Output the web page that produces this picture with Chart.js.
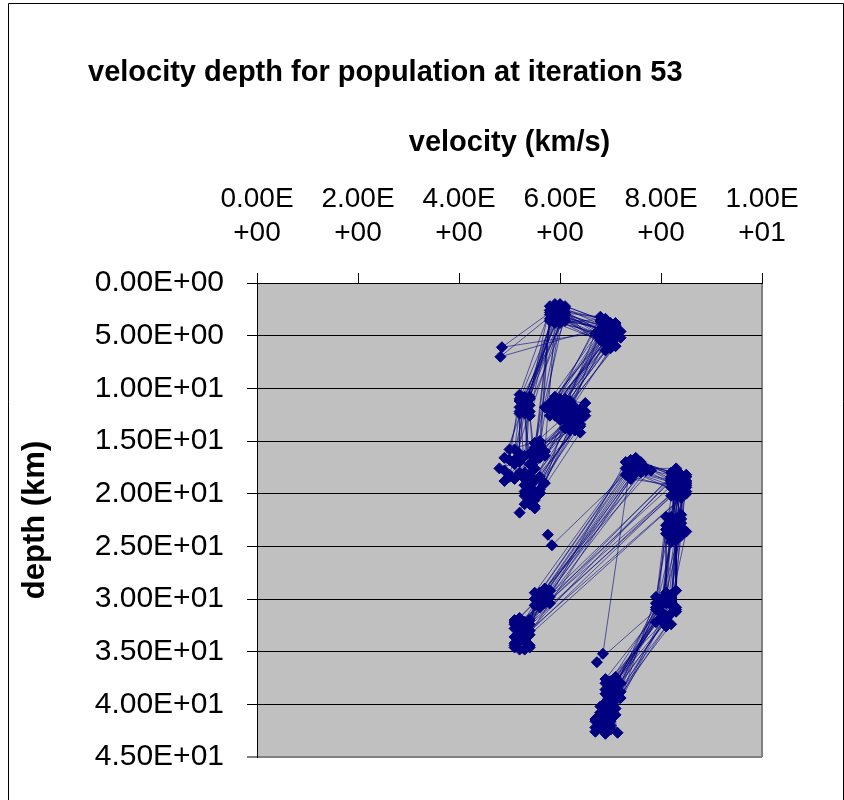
<!DOCTYPE html>
<html>
<head>
<meta charset="utf-8">
<script src="https://cdn.jsdelivr.net/npm/chart.js@4"></script>
<style>
  body { margin: 0; background: #fff; }
  #wrap { position: relative; width: 844px; height: 800px; }
</style>
</head>
<body>
<div id="wrap"><canvas id="chart"></canvas></div>
<script>
// population of 28 velocity models, one value per model in each array
// upper part of each model: G -> C -> A -> B -> D -> E -> H
const velG = [5.1, 4.9, 5.3, 5.0, 5.4, 5.2, 4.8, 5.5, 5.1, 5.3, 5.0, 5.6, 5.2, 4.9, 5.4, 5.1, 5.3, 5.2, 6.9, 7.0, 5.0, 5.2, 4.9, 5.4, 5.1, 5.3, 5.0, 5.5];
const depG = [17.2, 17.8, 16.4, 18.2, 19.6, 17.0, 17.6, 20.4, 18.6, 21.0, 16.8, 19.9, 18.0, 16.6, 20.8, 15.8, 19.2, 21.8, 4.6, 4.0, 18.4, 16.2, 18.8, 20.0, 16.8, 18.0, 15.8, 21.4];
const velC = [5.3, 5.2, 5.4, 5.5, 5.3, 5.2, 5.6, 5.4, 5.3, 5.5, 5.2, 5.4, 5.7, 5.3, 5.5, 5.2, 5.4, 5.6, 4.85, 4.82, 5.3, 5.2, 5.5, 5.3, 5.4, 5.2, 5.6, 5.3];
const depC = [11.2, 11.8, 10.8, 15.6, 12.4, 11.0, 16.2, 11.6, 12.0, 15.2, 10.6, 12.6, 16.0, 11.4, 15.8, 12.2, 11.0, 15.4, 6.1, 7.0, 11.6, 12.4, 16.6, 10.8, 12.2, 11.2, 15.0, 12.0];
const velA = [5.9, 6.0, 5.8, 6.1, 5.9, 6.0, 5.8, 6.1, 5.9, 6.0, 5.8, 6.1, 5.9, 6.0, 5.8, 6.1, 5.9, 6.0, 5.8, 6.0, 5.9, 6.1, 5.8, 6.0, 5.9, 6.1, 5.8, 6.0];
const depA = [2.6, 3.0, 2.2, 2.8, 3.4, 2.0, 3.0, 3.6, 2.4, 3.2, 2.6, 2.2, 3.8, 2.6, 3.4, 3.0, 2.0, 3.6, 2.8, 2.4, 3.2, 2.4, 3.6, 2.8, 2.2, 3.4, 2.6, 3.8];
const velB = [6.9, 7.0, 6.8, 7.1, 6.9, 7.0, 6.8, 7.2, 6.9, 7.0, 6.8, 7.1, 6.9, 7.0, 6.7, 7.1, 6.9, 7.0, 6.8, 7.1, 6.9, 7.0, 7.1, 6.8, 7.0, 6.9, 7.2, 6.8];
const depB = [4.2, 4.8, 3.6, 5.2, 5.8, 3.8, 4.4, 4.6, 5.0, 6.2, 5.4, 4.0, 3.4, 5.6, 4.8, 4.4, 6.4, 4.2, 5.0, 3.8, 5.4, 4.4, 6.0, 3.2, 5.0, 4.0, 5.2, 4.8];
const velD = [5.9, 6.0, 5.8, 6.1, 5.9, 6.2, 5.7, 6.0, 5.9, 6.1, 5.8, 6.0, 6.2, 5.9, 6.0, 5.8, 6.1, 5.9, 6.0, 6.2, 6.0, 5.8, 6.1, 5.9, 6.2, 5.8, 6.0, 6.1];
const depD = [11.4, 11.0, 12.0, 11.6, 12.6, 11.2, 11.8, 12.2, 10.8, 12.8, 11.4, 11.8, 12.4, 11.2, 13.0, 12.2, 11.0, 11.8, 12.4, 11.6, 11.4, 12.6, 12.0, 11.6, 11.4, 11.8, 12.8, 11.2];
const velE = [6.3, 6.2, 6.4, 6.3, 6.1, 6.5, 6.3, 6.2, 6.4, 6.3, 6.2, 6.4, 6.3, 6.1, 6.4, 6.2, 6.5, 6.3, 6.2, 6.4, 6.3, 6.2, 6.4, 6.3, 6.5, 6.1, 6.3, 6.4];
const depE = [12.6, 13.4, 12.0, 13.8, 12.8, 11.4, 13.0, 14.0, 12.4, 13.2, 12.2, 13.6, 11.8, 13.0, 12.8, 13.6, 12.2, 12.4, 13.2, 14.2, 13.4, 12.4, 13.0, 14.0, 12.6, 13.8, 12.0, 13.4];
const velH = [5.5, 5.4, 5.6, 5.3, 5.5, 5.7, 5.4, 5.6, 5.5, 5.3, 5.6, 5.4, 5.5, 5.7, 5.4, 5.5, 5.6, 5.5, 5.4, 5.6, 5.5, 5.4, 5.6, 5.3, 5.6, 5.4, 5.5, 5.3];
const depH = [16.0, 19.4, 15.4, 20.2, 18.8, 16.4, 20.8, 15.8, 19.8, 18.6, 16.6, 20.4, 15.2, 19.0, 16.2, 21.2, 19.6, 16.8, 18.2, 20.0, 20.6, 17.2, 18.4, 19.2, 15.6, 21.0, 17.6, 19.8];

// lower part of each model: O -> N -> J -> K -> M -> P -> R -> S
const velO = [5.2, 5.1, 5.3, 5.2, 5.4, 5.1, 5.3, 5.2, 5.4, 5.1, 5.2, 5.3, 5.1, 5.4, 5.2, 5.3, 5.1, 5.76, 5.2, 5.3, 5.2, 5.3, 5.1, 5.4, 5.2, 5.1, 5.3, 5.2];
const depO = [33.4, 34.2, 32.6, 34.8, 33.0, 32.2, 34.0, 31.8, 34.6, 33.6, 32.8, 33.8, 34.4, 32.4, 33.2, 34.8, 32.0, 23.9, 33.6, 32.8, 34.0, 33.2, 32.4, 34.4, 33.0, 34.6, 32.2, 33.8];
const velN = [5.7, 5.6, 5.8, 5.5, 5.7, 5.6, 5.8, 5.7, 5.5, 5.6, 5.3, 5.2, 5.3, 5.2, 5.4, 5.2, 5.3, 5.84, 5.7, 5.6, 5.6, 5.8, 5.7, 5.5, 5.3, 5.2, 5.4, 5.1];
const depN = [29.6, 30.2, 29.2, 30.6, 29.0, 29.8, 30.4, 29.4, 30.0, 29.6, 33.0, 32.4, 33.6, 33.2, 32.0, 33.8, 32.6, 24.9, 30.0, 29.4, 30.8, 29.8, 30.4, 29.4, 32.2, 34.0, 33.4, 32.8];
const velJ = [7.5, 7.4, 7.6, 7.3, 7.7, 7.5, 7.4, 7.6, 7.3, 7.8, 8.3, 8.4, 8.2, 8.5, 8.3, 8.4, 8.2, 7.5, 7.6, 7.4, 7.5, 7.3, 7.7, 7.4, 8.4, 8.2, 8.5, 8.3];
const depJ = [17.4, 17.8, 17.0, 18.2, 17.6, 16.6, 18.6, 17.2, 17.6, 17.8, 19.6, 18.4, 20.2, 19.0, 17.8, 20.4, 18.8, 17.2, 18.0, 17.0, 18.0, 17.0, 17.8, 16.8, 19.2, 18.6, 20.0, 18.0];
const velK = [8.3, 8.4, 8.2, 8.5, 8.3, 8.4, 8.5, 8.2, 8.4, 8.3, 8.5, 8.3, 8.4, 8.2, 8.5, 8.3, 8.4, 8.3, 8.4, 6.85, 8.3, 8.5, 8.2, 8.4, 8.3, 8.5, 8.2, 8.4];
const depK = [18.4, 19.2, 18.0, 19.8, 17.6, 18.8, 19.4, 18.6, 20.0, 19.0, 18.2, 19.8, 18.6, 19.4, 18.8, 18.2, 19.6, 18.0, 19.0, 35.2, 19.4, 18.4, 19.0, 18.2, 20.2, 19.2, 18.4, 19.8];
const velM = [8.3, 8.2, 8.4, 8.3, 8.1, 8.4, 8.2, 8.3, 8.5, 8.2, 8.3, 8.4, 8.2, 8.3, 8.1, 8.4, 8.3, 8.2, 8.3, 6.73, 8.2, 8.4, 8.3, 8.1, 8.4, 8.2, 8.3, 8.1];
const depM = [23.0, 23.8, 22.4, 24.2, 23.4, 22.0, 24.6, 22.8, 23.6, 22.2, 24.0, 23.2, 22.6, 24.4, 23.0, 23.8, 22.4, 23.6, 23.2, 36.0, 23.4, 24.0, 22.6, 23.8, 22.8, 24.2, 23.6, 22.2];
const velP = [8.1, 8.0, 8.2, 8.1, 7.9, 8.3, 8.0, 8.2, 8.1, 7.9, 8.3, 8.0, 8.1, 8.2, 7.9, 8.1, 8.3, 8.0, 8.2, 8.1, 8.0, 8.2, 7.9, 8.1, 8.2, 8.0, 8.3, 7.9];
const depP = [30.4, 31.2, 29.6, 32.0, 30.8, 29.2, 31.8, 30.2, 32.6, 29.8, 31.0, 30.0, 31.6, 30.6, 32.2, 29.4, 30.8, 31.4, 32.4, 30.2, 30.6, 31.4, 31.0, 29.6, 30.0, 32.0, 31.2, 30.4];
const velR = [7.0, 7.1, 6.9, 7.0, 7.2, 6.9, 7.1, 7.0, 6.9, 7.1, 7.0, 6.9, 7.2, 7.0, 7.1, 6.9, 7.0, 7.1, 7.0, 7.1, 7.0, 6.9, 7.1, 7.0, 6.9, 7.2, 7.0, 7.1];
const depR = [38.2, 38.8, 37.6, 39.4, 38.0, 39.0, 37.4, 38.6, 40.4, 41.0, 38.4, 39.8, 38.8, 41.4, 37.8, 40.8, 39.2, 38.0, 40.0, 38.4, 39.0, 38.0, 39.6, 37.8, 38.6, 39.4, 40.6, 38.2];
const velS = [6.9, 6.8, 7.0, 6.7, 6.9, 7.0, 6.8, 6.9, 6.7, 7.0, 6.8, 6.9, 6.7, 7.1, 6.9, 6.8, 7.14, 6.9, 6.8, 7.0, 6.9, 6.8, 7.0, 6.7, 6.9, 6.8, 7.0, 6.9];
const depS = [41.2, 42.0, 40.6, 41.6, 42.4, 41.0, 40.2, 42.8, 41.4, 42.2, 40.8, 41.8, 42.6, 40.4, 41.4, 42.2, 42.7, 40.6, 41.8, 41.6, 41.8, 40.8, 42.0, 42.2, 40.8, 41.2, 42.4, 41.0];

const upperPath = [[velG, depG], [velC, depC], [velA, depA], [velB, depB], [velD, depD], [velE, depE], [velH, depH]];
const lowerPath = [[velO, depO], [velN, depN], [velJ, depJ], [velK, depK], [velM, depM], [velP, depP], [velR, depR], [velS, depS]];

const velTicks = [0, 2, 4, 6, 8, 10];
const depthTicks = [0, 5, 10, 15, 20, 25, 30, 35, 40, 45];

const FONT = "'Liberation Sans', Arial, sans-serif";
const NAVY = '#000080';

function sci(v) {
  const e = v === 0 ? 0 : Math.floor(Math.log10(Math.abs(v)));
  const m = v / Math.pow(10, e);
  return m.toFixed(2) + 'E' + (e < 0 ? '-' : '+') + String(Math.abs(e)).padStart(2, '0');
}

const datasets = [];
for (let i = 0; i < velA.length; i++) {
  [upperPath, lowerPath].forEach(path => {
    datasets.push({
      data: path.map(([v, d]) => ({ x: v[i], y: d[i] })),
      showLine: true,
      borderColor: 'rgba(0, 0, 128, 0.85)',
      borderWidth: 0.7,
      pointStyle: 'rectRot',
      pointRadius: 5.5,
      pointBackgroundColor: NAVY,
      pointBorderColor: NAVY,
      pointBorderWidth: 1,
    });
  });
}

// grey plot area, grey right edge, outer frame and chart title
const chartDecor = {
  id: 'chartDecor',
  beforeDraw(chart) {
    const { ctx, chartArea: a } = chart;
    ctx.save();
    ctx.fillStyle = '#fff';
    ctx.fillRect(0, 0, chart.width, chart.height);
    ctx.fillStyle = '#C0C0C0';
    ctx.fillRect(a.left, a.top, a.right - a.left, a.bottom - a.top);
    ctx.strokeStyle = '#808080';
    ctx.lineWidth = 2;
    ctx.beginPath();
    ctx.moveTo(a.right, a.top);
    ctx.lineTo(a.right, a.bottom);
    ctx.stroke();
    ctx.strokeStyle = '#000';
    ctx.lineWidth = 1;
    ctx.beginPath();
    ctx.moveTo(8.5, chart.height);
    ctx.lineTo(8.5, 3.5);
    ctx.lineTo(843.5, 3.5);
    ctx.lineTo(843.5, chart.height);
    ctx.stroke();
    ctx.restore();
  },
  afterDraw(chart) {
    const { ctx } = chart;
    ctx.save();
    ctx.fillStyle = '#000';
    ctx.font = 'bold 29px ' + FONT;
    ctx.textBaseline = 'middle';
    ctx.fillText('velocity depth for population at iteration 53', 88, 73);
    ctx.restore();
  }
};

new Chart(document.getElementById('chart'), {
  type: 'scatter',
  data: { datasets },
  options: {
    responsive: true,
    maintainAspectRatio: false,
    animation: false,
    layout: { padding: { left: 0, top: 0, right: 82, bottom: 43 } },
    plugins: {
      legend: { display: false },
      tooltip: { enabled: false },
    },
    scales: {
      x: {
        type: 'linear',
        position: 'top',
        min: 0,
        max: 10,
        afterBuildTicks: s => { s.ticks = velTicks.map(v => ({ value: v })); },
        afterFit: s => { s.height = 283; },
        grid: { drawOnChartArea: false, drawTicks: true, tickLength: 10, color: '#000' },
        border: { color: '#000', width: 1 },
        ticks: {
          color: '#000',
          font: { family: FONT, size: 28, lineHeight: 1.2 },
          padding: 23,
          maxRotation: 0,
          callback: v => { const s = sci(v); return [s.slice(0, 5), s.slice(5)]; },
        },
        title: {
          display: true,
          text: 'velocity (km/s)',
          color: '#000',
          font: { family: FONT, size: 29, weight: 'bold', lineHeight: 1.2 },
          padding: { top: 126, bottom: 0 },
        },
      },
      y: {
        type: 'linear',
        reverse: true,
        min: 0,
        max: 45,
        afterBuildTicks: s => { s.ticks = depthTicks.map(v => ({ value: v })); },
        afterFit: s => { s.width = 257; },
        grid: {
          tickLength: 10,
          color: c => (c.tick && c.tick.value === 45 ? '#808080' : '#000'),
          lineWidth: c => (c.tick && c.tick.value === 45 ? 2 : 1),
        },
        border: { color: '#000', width: 1 },
        ticks: {
          color: '#000',
          font: { family: FONT, size: 30 },
          padding: 23,
          callback: v => sci(v),
        },
        title: {
          display: true,
          text: 'depth (km)',
          color: '#000',
          font: { family: FONT, size: 31, weight: 'bold', lineHeight: 1.2 },
          padding: { top: 17, bottom: 0 },
        },
      },
    },
  },
  plugins: [chartDecor],
});
</script>
</body>
</html>
